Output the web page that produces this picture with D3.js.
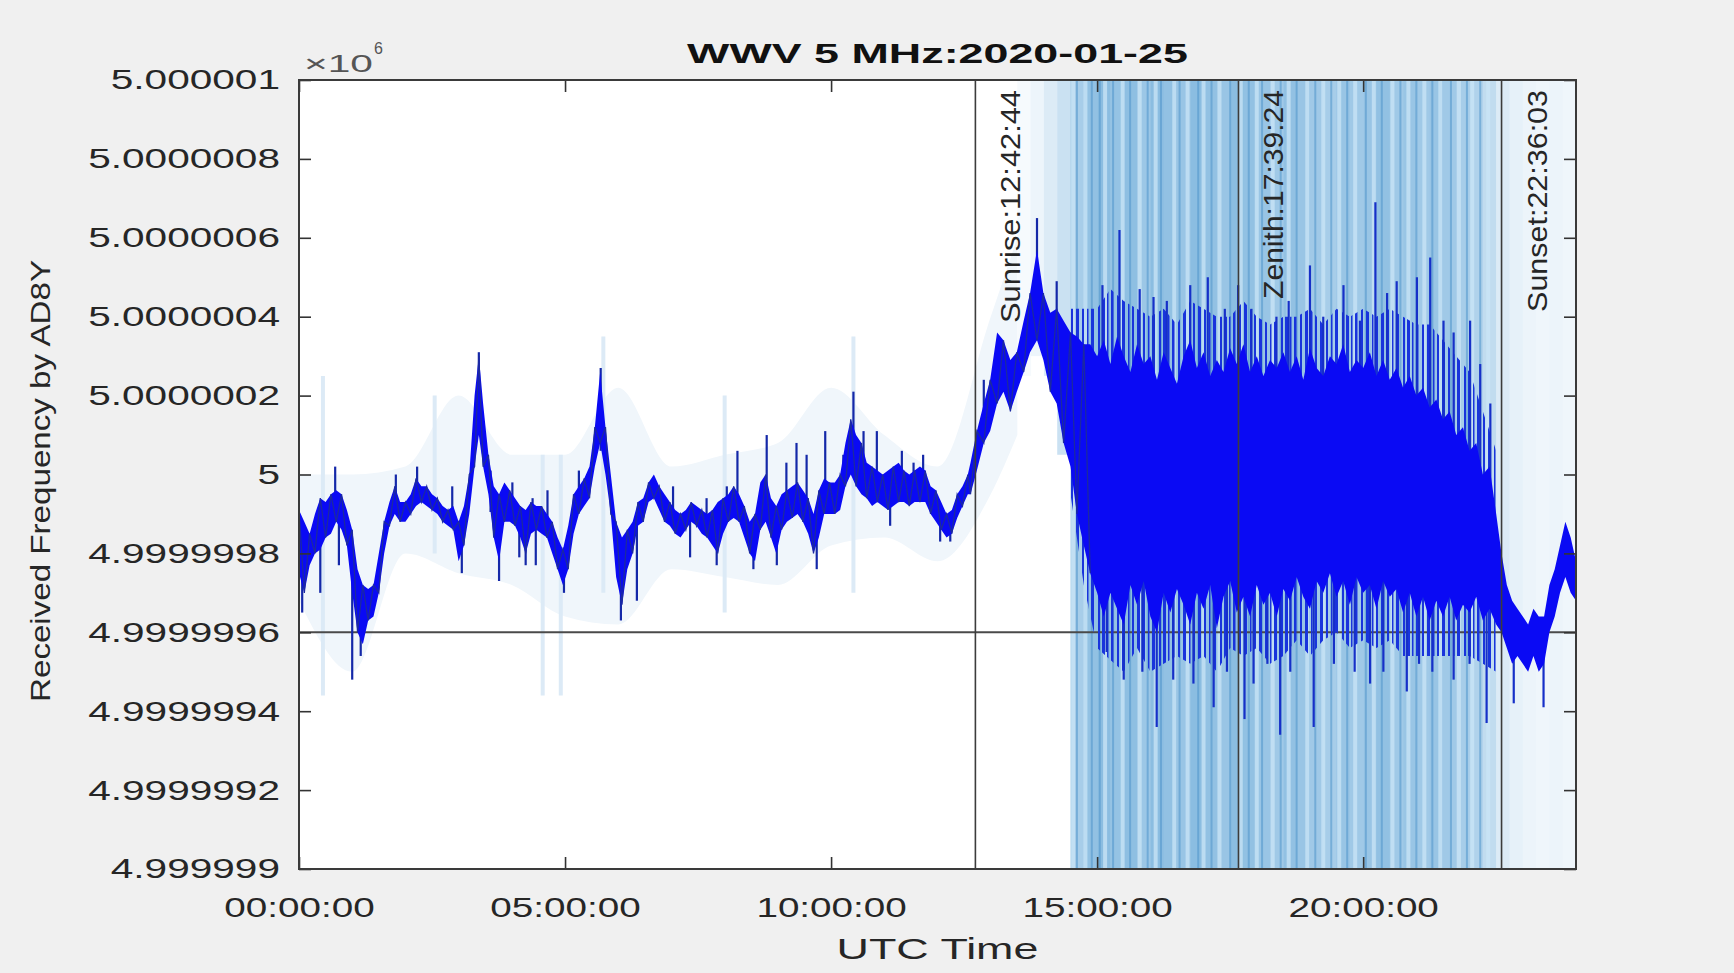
<!DOCTYPE html>
<html>
<head>
<meta charset="utf-8">
<script src="https://cdn.jsdelivr.net/npm/d3@7"></script>
<style>
    body { margin: 0; background: #f0f0f0; }
    text { font-family: "Liberation Sans", Arial, sans-serif; }
</style>
</head>
<body>
<svg id="chart" width="1734" height="973"></svg>
<script>
// Chart values (frequency offsets are in Hz relative to 5 MHz, times in UTC hours)
const BASE_HZ      = 5e6;
const TITLE        = "WWV 5 MHz:2020-01-25";
const DAY          = "2020-01-25";
const X_LABEL      = "UTC Time";
const Y_LABEL      = "Received Frequency by AD8Y";
const xTickHours   = [0, 5, 10, 15, 20];
const yTickOffsets = [-1, -0.8, -0.6, -0.4, -0.2, 0, 0.2, 0.4, 0.6, 0.8, 1];
const refOffset    = -0.4;

const eventNames = ["Sunrise", "Zenith", "Sunset"];
const eventTimes = ["12:42:44", "17:39:24", "22:36:03"];

// Dark (filtered) trace: envelope of the plotted line
const bandTime = [
    0.00, 0.10, 0.20, 0.30, 0.40, 0.50, 0.60, 0.70, 0.80, 0.90, 1.00, 1.10, 1.20, 1.30, 1.40, 1.50,
    1.60, 1.70, 1.80, 1.90, 2.00, 2.10, 2.20, 2.30, 2.40, 2.50, 2.60, 2.70, 2.80, 2.90, 3.00, 3.10,
    3.20, 3.30, 3.38, 3.46, 3.56, 3.66, 3.76, 3.86, 3.96, 4.06, 4.16, 4.26, 4.36, 4.46, 4.56, 4.66,
    4.76, 4.86, 4.96, 5.06, 5.16, 5.26, 5.36, 5.46, 5.56, 5.66, 5.76, 5.86, 5.96, 6.07, 6.17, 6.27,
    6.37, 6.47, 6.57, 6.67, 6.77, 6.87, 6.97, 7.07, 7.17, 7.27, 7.37, 7.47, 7.57, 7.67, 7.77, 7.87,
    7.97, 8.07, 8.17, 8.27, 8.37, 8.47, 8.57, 8.67, 8.77, 8.87, 8.97, 9.07, 9.17, 9.27, 9.37, 9.47,
    9.57, 9.67, 9.77, 9.87, 9.97, 10.07, 10.17, 10.27, 10.37, 10.47, 10.57, 10.67, 10.77, 10.87,
    10.97, 11.07, 11.17, 11.27, 11.37, 11.47, 11.57, 11.67, 11.77, 11.87, 11.97, 12.07, 12.17,
    12.27, 12.37, 12.47, 12.57, 12.62, 12.74, 12.87, 12.99, 13.12, 13.24, 13.37, 13.49, 13.62,
    13.74, 13.87, 13.99, 14.12, 14.24, 14.37, 14.50, 14.62, 14.75, 14.87,
    15.000, 15.125, 15.250, 15.375, 15.500, 15.625, 15.750, 15.875, 16.000, 16.125, 16.250, 16.375,
    16.500, 16.625, 16.750, 16.875, 17.000, 17.125, 17.250, 17.375, 17.500, 17.625, 17.750, 17.875,
    18.000, 18.125, 18.250, 18.375, 18.500, 18.625, 18.750, 18.875, 19.000, 19.125, 19.250, 19.375,
    19.500, 19.625, 19.750, 19.875, 20.000, 20.125, 20.250, 20.375, 20.500, 20.625, 20.750, 20.875,
    21.000, 21.125, 21.250, 21.375, 21.500, 21.625, 21.750, 21.875, 22.000, 22.125, 22.250, 22.375,
    22.500, 22.60, 22.70, 22.80, 22.90, 23.00, 23.10, 23.20, 23.30, 23.40, 23.50, 23.60,
    23.70, 23.80, 23.90, 24.00
];
const bandLow = [
    -0.25, -0.30, -0.23, -0.20, -0.19, -0.16, -0.15, -0.12, -0.14, -0.18, -0.30, -0.40, -0.43, -0.37, -0.36, -0.30,
    -0.20, -0.13, -0.10, -0.12, -0.12, -0.10, -0.08, -0.07, -0.08, -0.09, -0.10, -0.12, -0.13, -0.14, -0.22, -0.18,
    -0.10, 0.02, 0.10, 0.02, -0.05, -0.16, -0.22, -0.12, -0.12, -0.13, -0.16, -0.20, -0.15, -0.14, -0.15, -0.16,
    -0.20, -0.24, -0.28, -0.24, -0.15, -0.10, -0.08, -0.06, 0.02, 0.08, 0.00, -0.10, -0.26, -0.33, -0.24, -0.20,
    -0.13, -0.12, -0.07, -0.06, -0.09, -0.12, -0.13, -0.15, -0.16, -0.14, -0.12, -0.13, -0.15, -0.16, -0.18, -0.20,
    -0.15, -0.12, -0.11, -0.12, -0.16, -0.20, -0.22, -0.14, -0.12, -0.16, -0.20, -0.14, -0.12, -0.11, -0.10, -0.12,
    -0.15, -0.20, -0.16, -0.10, -0.10, -0.10, -0.09, -0.03, 0.00, -0.03, -0.05, -0.06, -0.08, -0.07,
    -0.08, -0.09, -0.08, -0.07, -0.07, -0.08, -0.07, -0.07, -0.07, -0.10, -0.12, -0.14, -0.16,
    -0.15, -0.11, -0.08, -0.05, -0.05, 0.01, 0.08, 0.11, 0.18, 0.21, 0.16, 0.21, 0.26,
    0.31, 0.34, 0.29, 0.21, 0.18, 0.08, 0.02, -0.10, -0.18, -0.25,
    -0.30, -0.36, -0.30, -0.34, -0.38, -0.28, -0.33, -0.27, -0.36, -0.40, -0.30, -0.35,
    -0.29, -0.33, -0.38, -0.30, -0.34, -0.28, -0.39, -0.31, -0.27, -0.35, -0.31, -0.36,
    -0.28, -0.33, -0.30, -0.36, -0.29, -0.32, -0.26, -0.31, -0.34, -0.27, -0.30, -0.25,
    -0.31, -0.27, -0.33, -0.26, -0.30, -0.28, -0.34, -0.27, -0.31, -0.29, -0.35, -0.30,
    -0.36, -0.31, -0.37, -0.32, -0.36, -0.31, -0.37, -0.33, -0.35, -0.31, -0.37, -0.34,
    -0.38, -0.40, -0.44, -0.48, -0.46, -0.48, -0.50, -0.46, -0.50, -0.48, -0.40, -0.36,
    -0.30, -0.26, -0.30, -0.32
];
const bandHigh = [
    -0.09, -0.12, -0.15, -0.10, -0.06, -0.07, -0.05, -0.04, -0.05, -0.09, -0.14, -0.24, -0.28, -0.29, -0.28, -0.20,
    -0.12, -0.07, -0.03, -0.07, -0.07, -0.05, -0.01, -0.03, -0.03, -0.05, -0.06, -0.08, -0.09, -0.08, -0.12, -0.08,
    0.00, 0.20, 0.30, 0.18, 0.05, -0.03, -0.05, -0.02, -0.04, -0.06, -0.08, -0.09, -0.07, -0.08, -0.08, -0.10,
    -0.12, -0.16, -0.19, -0.13, -0.05, -0.03, -0.01, 0.02, 0.12, 0.26, 0.12, 0.00, -0.12, -0.16, -0.14, -0.12,
    -0.07, -0.06, -0.02, 0.00, -0.03, -0.05, -0.07, -0.09, -0.10, -0.09, -0.07, -0.08, -0.09, -0.10, -0.09, -0.07,
    -0.06, -0.05, -0.03, -0.05, -0.08, -0.12, -0.10, -0.02, 0.00, -0.06, -0.08, -0.05, -0.04, -0.03, -0.02, -0.04,
    -0.06, -0.10, -0.04, -0.01, -0.02, -0.02, 0.00, 0.08, 0.14, 0.10, 0.08, 0.03, 0.02, 0.01,
    0.00, 0.01, 0.02, 0.03, 0.01, 0.00, 0.01, 0.02, 0.01, -0.03, -0.04, -0.07, -0.10,
    -0.09, -0.05, -0.03, 0.00, 0.03, 0.11, 0.18, 0.24, 0.36, 0.34, 0.29, 0.31, 0.39,
    0.46, 0.57, 0.46, 0.41, 0.42, 0.39, 0.36, 0.35, 0.33, 0.33,
    0.30, 0.34, 0.28, 0.35, 0.30, 0.26, 0.33, 0.28, 0.30, 0.24, 0.31, 0.27,
    0.23, 0.30, 0.34, 0.27, 0.31, 0.25, 0.29, 0.26, 0.32, 0.28, 0.33, 0.26,
    0.30, 0.25, 0.29, 0.27, 0.31, 0.26, 0.30, 0.24, 0.32, 0.27, 0.25, 0.30,
    0.28, 0.33, 0.26, 0.29, 0.27, 0.31, 0.25, 0.29, 0.24, 0.27, 0.22, 0.25,
    0.20, 0.22, 0.17, 0.19, 0.14, 0.16, 0.10, 0.12, 0.06, 0.08, 0.00, 0.02,
    -0.10, -0.20, -0.28, -0.32, -0.34, -0.36, -0.38, -0.34, -0.36, -0.36, -0.28, -0.24,
    -0.18, -0.12, -0.16, -0.22
];

// Streaky outer part of the dark trace during the disturbed daytime hours
const fringeTime = [
    14.50, 14.75, 15.00, 15.25, 15.50, 15.75, 16.00, 16.25, 16.50, 16.75, 17.00, 17.25, 17.50,
    17.75, 18.00, 18.25, 18.50, 18.75, 19.00, 19.25, 19.50, 19.75, 20.00, 20.25, 20.50, 20.75,
    21.00, 21.25, 21.50, 21.75, 22.00, 22.25, 22.50
];
const fringeLow = [
    -0.05, -0.28, -0.44, -0.47, -0.50, -0.44, -0.50, -0.48, -0.46, -0.48, -0.46, -0.50, -0.44,
    -0.46, -0.44, -0.48, -0.46, -0.42, -0.46, -0.42, -0.40, -0.44, -0.42, -0.44, -0.42, -0.46,
    -0.46, -0.46, -0.46, -0.46, -0.46, -0.48, -0.50
];
const fringeHigh = [
    0.42, 0.42, 0.42, 0.47, 0.44, 0.42, 0.40, 0.42, 0.38, 0.44, 0.42, 0.40, 0.40,
    0.44, 0.40, 0.38, 0.40, 0.40, 0.42, 0.38, 0.42, 0.40, 0.42, 0.40, 0.42, 0.40,
    0.38, 0.38, 0.34, 0.30, 0.26, 0.16, 0.06
];

// Single excursions of the dark trace
const spikeTime = [
    0.06, 0.40, 0.68, 0.75, 1.00, 1.16, 1.82, 2.22, 2.88, 3.06, 3.38, 3.60, 3.76, 4.01, 4.14,
    4.26, 4.39, 4.45, 4.67, 4.98, 5.26, 5.67, 6.05, 6.35, 7.03, 7.35, 7.66, 7.85, 8.04, 8.24,
    8.54, 8.79, 8.98, 9.16, 9.35, 9.54, 9.73, 9.89, 10.23, 10.42, 10.61, 10.86, 11.11, 11.33,
    11.55, 11.73, 12.05, 12.24,
    12.87, 13.87, 14.24,
    15.10, 15.42, 15.80, 16.06, 16.31, 16.75, 17.08, 17.40, 17.65, 17.90, 18.37, 18.60, 19.00,
    19.25, 19.63, 19.94, 20.23, 20.45, 20.63, 21.01, 21.26, 21.51, 21.70, 22.01, 22.20, 22.39,
    15.18, 15.50, 15.85, 16.12, 16.43, 16.81, 17.19, 17.44, 17.77, 17.94, 18.20, 18.44, 18.63,
    19.07, 19.45, 19.84, 20.13, 20.38, 20.82, 21.05, 21.30, 21.70, 22.00, 22.32, 22.83, 23.39
];
const spikeValue = [
    -0.35, -0.30, 0.02, -0.23, -0.52, -0.46, 0.00, 0.02, -0.03, -0.25, 0.31, 0.01, -0.27, -0.02, -0.21,
    -0.23, -0.06, -0.23, -0.04, -0.30, 0.01, 0.27, -0.37, -0.32, -0.03, -0.21, -0.06, -0.23, -0.03, 0.06,
    -0.24, 0.10, -0.23, 0.03, 0.08, 0.05, -0.24, 0.11, 0.05, 0.21, 0.11, 0.11, -0.13, 0.06,
    0.03, 0.05, -0.17, -0.17,
    0.24, 0.65, 0.49,
    0.48, 0.62, 0.47, 0.45, 0.44, 0.48, 0.50, 0.42, 0.48, 0.42, 0.40, 0.44, 0.53,
    0.40, 0.48, 0.39, 0.69, 0.46, 0.49, 0.50, 0.55, 0.39, 0.36, 0.39, 0.28, 0.18,
    -0.45, -0.52, -0.50, -0.64, -0.52, -0.53, -0.59, -0.50, -0.62, -0.53, -0.48, -0.66, -0.50,
    -0.64, -0.48, -0.50, -0.53, -0.50, -0.55, -0.48, -0.50, -0.52, -0.48, -0.63, -0.58, -0.59
];

// Light (raw) trace: pale halo during the quiet night hours
const hazeTime = [0, 1, 2, 3, 4, 5, 6, 7, 8, 9, 10, 11, 12, 13, 13.5];
const hazeHigh = [0.00, 0.00, 0.02, 0.20, 0.05, 0.05, 0.22, 0.02, 0.05, 0.08, 0.22, 0.10, 0.02, 0.40, 0.60];
const hazeLow  = [-0.32, -0.50, -0.20, -0.25, -0.28, -0.36, -0.38, -0.24, -0.26, -0.28, -0.18, -0.16, -0.22, -0.05, 0.10];

// Light (raw) trace: coverage in quarter-hour bins where it spans the whole axis
const rawTime = [
    13.50, 13.75, 14.00, 14.25, 14.50, 14.75, 15.00, 15.25, 15.50, 15.75, 16.00, 16.25, 16.50, 16.75,
    17.00, 17.25, 17.50, 17.75, 18.00, 18.25, 18.50, 18.75, 19.00, 19.25, 19.50, 19.75, 20.00, 20.25,
    20.50, 20.75, 21.00, 21.25, 21.50, 21.75, 22.00, 22.25, 22.50, 22.75, 23.00, 23.25, 23.50, 23.75
];
const rawDensity = [
    0.05, 0.10, 0.20, 0.30, 0.50, 0.62, 0.66, 0.60, 0.64, 0.56, 0.66, 0.62, 0.58, 0.66,
    0.62, 0.58, 0.66, 0.62, 0.58, 0.54, 0.62, 0.58, 0.54, 0.50, 0.58, 0.54, 0.58, 0.62,
    0.54, 0.58, 0.54, 0.58, 0.54, 0.50, 0.45, 0.35, 0.20, 0.14, 0.11, 0.09, 0.11, 0.09
];
const rawLow = [
    0.25, 0.30, 0.25, 0.05, -1.2, -1.2, -1.2, -1.2, -1.2, -1.2, -1.2, -1.2, -1.2, -1.2,
    -1.2, -1.2, -1.2, -1.2, -1.2, -1.2, -1.2, -1.2, -1.2, -1.2, -1.2, -1.2, -1.2, -1.2,
    -1.2, -1.2, -1.2, -1.2, -1.2, -1.2, -1.2, -1.2, -1.2, -1.2, -1.2, -1.2, -1.2, -1.2
];
const streakDarkTime = [
    14.62, 14.90, 15.05, 15.30, 15.62, 15.95, 16.20, 16.55, 16.90, 17.15, 17.50, 17.85, 18.10,
    18.45, 18.75, 19.10, 19.40, 19.70, 20.05, 20.35, 20.70, 21.00, 21.30, 21.65, 21.95, 22.20
];
const streakLightTime = [
    14.55, 14.78, 15.15, 15.48, 15.80, 16.10, 16.45, 16.70, 17.00, 17.30, 17.70, 18.00, 18.30,
    18.60, 18.95, 19.25, 19.55, 19.85, 20.20, 20.55, 20.85, 21.15, 21.45, 21.80, 22.05, 22.35
];
const faintTime = [0.45, 2.55, 4.58, 4.92, 5.72, 8.00, 10.42];
const faintHigh = [0.25, 0.20, 0.05, 0.05, 0.35, 0.20, 0.35];
const faintLow  = [-0.56, -0.20, -0.56, -0.56, -0.30, -0.35, -0.30];

// Layout
const margin = {left: 299, right: 158, top: 80, bottom: 104};
const width  = 1734;
const height = 973;
const FONT   = 28;
const DISTURBED_FROM = 14.9;   // texture line is only drawn on the quiet part of the trace

const svg = d3.select("#chart");

const day0 = d3.utcParse("%Y-%m-%d")(DAY);
const day1 = d3.utcDay.offset(day0, 1);
const hours = (h) => new Date(day0.getTime() + h * 3600e3);
const parseClock = d3.utcParse("%Y-%m-%d %H:%M:%S");

const x = d3.scaleUtc()
    .domain([day0, day1])
    .range([margin.left, width - margin.right]);

const y = d3.scaleLinear()
    .domain([-1, 1])
    .range([height - margin.bottom, margin.top]);

const x0 = x.range()[0], x1 = x.range()[1];
const y0 = y.range()[1], y1 = y.range()[0];

// Stretch text horizontally (the source picture is wider than it is tall)
function stretchX(sel, sx)
{
    sel.each(function () {
        const t = d3.select(this);
        const tx = +t.attr("x") || 0;
        t.attr("x", tx / sx).attr("transform", `scale(${sx},1)`);
    });
}

function fitFactor(node, target)
{
    return target / node.getComputedTextLength();
}

const yFormat = (o) => ((BASE_HZ + o) / 1e6).toFixed(7).replace(/0+$/, "").replace(/\.$/, "");

const defs = svg.append("defs");

defs.append("clipPath")
    .attr("id", "plot-clip")
    .append("rect")
    .attr("x", x0).attr("y", y0)
    .attr("width", x1 - x0).attr("height", y1 - y0);

// Streak pattern for the outer part of the dark trace
const pattern = defs.append("pattern")
    .attr("id", "fringe")
    .attr("patternUnits", "userSpaceOnUse")
    .attr("width", 61).attr("height", 40);

[[0, 2], [4, 3], [9, 1.5], [13, 2.5], [19, 2], [24, 3], [30, 1.5], [34, 2], [39, 3], [45, 2], [50, 1.5], [54, 3]]
    .forEach(([px, pw]) => {
        pattern.append("rect")
            .attr("x", px).attr("y", 0)
            .attr("width", pw).attr("height", 40)
            .attr("fill", "#1934dc");
    });

svg.append("rect")
    .attr("x", x0).attr("y", y0)
    .attr("width", x1 - x0).attr("height", y1 - y0)
    .attr("fill", "#ffffff");

const plot = svg.append("g").attr("clip-path", "url(#plot-clip)");

const hx = (t) => x(hours(t));

// Pale halo of the raw trace
plot.append("path")
    .datum(hazeTime.map((t, i) => ({t, lo: hazeLow[i], hi: hazeHigh[i]})))
    .attr("fill", "#f0f6fb")
    .attr("d", d3.area().curve(d3.curveMonotoneX)
        .x((d) => hx(d.t))
        .y0((d) => y(d.lo))
        .y1((d) => y(d.hi)));

plot.selectAll("line.faint")
    .data(faintTime.map((t, i) => ({t, lo: faintLow[i], hi: faintHigh[i]})))
    .join("line")
    .attr("class", "faint")
    .attr("x1", (d) => hx(d.t)).attr("x2", (d) => hx(d.t))
    .attr("y1", (d) => y(d.hi)).attr("y2", (d) => y(d.lo))
    .attr("stroke", "#dceaf6")
    .attr("stroke-width", 4);

// Raw trace coverage bins
const rawColor = d3.interpolateRgb("#ffffff", "#4f9bd2");

plot.selectAll("rect.raw")
    .data(rawTime.map((t, i) => ({t, density: rawDensity[i], lo: rawLow[i]})))
    .join("rect")
    .attr("class", "raw")
    .attr("x", (d) => hx(d.t))
    .attr("width", (d) => hx(d.t + 0.25) - hx(d.t) + 0.5)
    .attr("y", y(1.2))
    .attr("height", (d) => y(d.lo) - y(1.2))
    .attr("fill", (d) => rawColor(d.density));

plot.selectAll("line.streak-dark")
    .data(streakDarkTime)
    .join("line")
    .attr("class", "streak-dark")
    .attr("x1", hx).attr("x2", hx)
    .attr("y1", y0).attr("y2", y1)
    .attr("stroke", "#4f95cb")
    .attr("stroke-width", 2)
    .attr("opacity", 0.55);

plot.selectAll("line.streak-light")
    .data(streakLightTime)
    .join("line")
    .attr("class", "streak-light")
    .attr("x1", hx).attr("x2", hx)
    .attr("y1", y0).attr("y2", y1)
    .attr("stroke", "#cbe6f7")
    .attr("stroke-width", 4)
    .attr("opacity", 0.75);

// Reference line
plot.append("line")
    .attr("x1", x0).attr("x2", x1)
    .attr("y1", y(refOffset)).attr("y2", y(refOffset))
    .attr("stroke", "#4a4a4a")
    .attr("stroke-width", 2);

// Dark trace
const band = bandTime.map((t, i) => ({t, lo: bandLow[i], hi: bandHigh[i]}));
const fringe = fringeTime.map((t, i) => ({t, lo: fringeLow[i], hi: fringeHigh[i]}));

plot.append("path")
    .datum(fringe)
    .attr("fill", "url(#fringe)")
    .attr("d", d3.area()
        .x((d) => hx(d.t))
        .y0((d) => y(d.lo))
        .y1((d) => y(d.hi)));

const bisect = d3.bisector((d) => d.t).left;

plot.selectAll("line.spike")
    .data(spikeTime.map((t, i) => ({t, v: spikeValue[i]})))
    .join("line")
    .attr("class", "spike")
    .attr("x1", (d) => hx(d.t)).attr("x2", (d) => hx(d.t))
    .attr("y1", (d) => y(d.v))
    .attr("y2", (d) => {
        const b = band[Math.min(bisect(band, d.t), band.length - 1)];
        return y((b.lo + b.hi) / 2);
    })
    .attr("stroke", (d) => d.t < DISTURBED_FROM ? "#1428a8" : "#1630c8")
    .attr("stroke-width", 2.2);

plot.append("path")
    .datum(band)
    .attr("fill", "#0a0af4")
    .attr("d", d3.area()
        .x((d) => hx(d.t))
        .y0((d) => y(d.lo))
        .y1((d) => y(d.hi)));

// Jagged texture of the quiet trace: alternate between the envelope edges
plot.append("path")
    .datum(band.filter((d) => d.t < DISTURBED_FROM))
    .attr("fill", "none")
    .attr("stroke", "#1c2aa0")
    .attr("stroke-width", 1.3)
    .attr("d", d3.line()
        .x((d) => hx(d.t))
        .y((d, i) => y(i % 2 ? d.lo : d.hi)));

// Sunrise / zenith / sunset markers
const events = eventNames.map((name, i) => ({
    name,
    time: eventTimes[i],
    date: parseClock(DAY + " " + eventTimes[i])
}));
const eventLabelLength = [233, 209, 222];

svg.selectAll("line.event")
    .data(events)
    .join("line")
    .attr("class", "event")
    .attr("x1", (d) => x(d.date)).attr("x2", (d) => x(d.date))
    .attr("y1", y0).attr("y2", y1)
    .attr("stroke", "#3c3c3c")
    .attr("stroke-width", 1.6);

svg.selectAll("g.event-label")
    .data(events)
    .join("g")
    .attr("class", "event-label")
    .each(function (d, i) {
        const g = d3.select(this);
        const t = g.append("text")
            .attr("text-anchor", "end")
            .attr("font-size", FONT)
            .attr("fill", "#262626")
            .text(d.name + ":" + d.time);
        const sx = fitFactor(t.node(), eventLabelLength[i]);
        g.attr("transform", `translate(${x(d.date) + 45},${y0 + 10}) rotate(-90) scale(${sx},1)`);
    });

// Axes (MATLAB style: ticks inside the box on all four sides)
const axisStyle = (g) => {
    g.select(".domain").remove();
    g.selectAll(".tick line").attr("stroke", "#333333").attr("stroke-width", 1.6);
    g.selectAll(".tick text")
        .attr("font-size", FONT)
        .attr("fill", "#262626")
        .attr("font-family", "Liberation Sans, Arial, sans-serif");
};

svg.append("g")
    .attr("transform", `translate(${x0},0)`)
    .call(d3.axisLeft(y).tickValues(yTickOffsets).tickFormat(yFormat)
        .tickSizeInner(-12).tickSizeOuter(0).tickPadding(19))
    .call(axisStyle)
    .call((g) => stretchX(g.selectAll(".tick text"), 1.45));

svg.append("g")
    .attr("transform", `translate(${x1},0)`)
    .call(d3.axisRight(y).tickValues(yTickOffsets).tickFormat("")
        .tickSizeInner(-12).tickSizeOuter(0))
    .call(axisStyle);

svg.append("g")
    .attr("transform", `translate(0,${y1})`)
    .call(d3.axisBottom(x).tickValues(xTickHours.map(hours))
        .tickFormat(d3.utcFormat("%H:%M:%S"))
        .tickSizeInner(-12).tickSizeOuter(0).tickPadding(28))
    .call(axisStyle)
    .call((g) => stretchX(g.selectAll(".tick text"), 1.38));

svg.append("g")
    .attr("transform", `translate(0,${y0})`)
    .call(d3.axisTop(x).tickValues(xTickHours.map(hours)).tickFormat("")
        .tickSizeInner(-12).tickSizeOuter(0))
    .call(axisStyle);

svg.append("rect")
    .attr("x", x0).attr("y", y0)
    .attr("width", x1 - x0).attr("height", y1 - y0)
    .attr("fill", "none")
    .attr("stroke", "#3a3a3a")
    .attr("stroke-width", 2);

// Exponent label
const expo = svg.append("g").attr("transform", `translate(${x0 + 5},72)`);
const expoText = expo.append("text")
    .attr("font-size", 24)
    .attr("fill", "#555555")
    .text("\u00d710");
expoText.attr("transform", `scale(${fitFactor(expoText.node(), 69)},1)`);
expo.append("text")
    .attr("x", 70).attr("y", -18)
    .attr("font-size", 16)
    .attr("fill", "#555555")
    .text("6");

// Title
const title = svg.append("g").attr("transform", `translate(${(x0 + x1) / 2},63)`);
const titleText = title.append("text")
    .attr("text-anchor", "middle")
    .attr("font-size", FONT)
    .attr("font-weight", "bold")
    .attr("fill", "#111111")
    .text(TITLE);
titleText.attr("transform", `scale(${fitFactor(titleText.node(), 501)},1)`);

// Axis labels
const xLabel = svg.append("g").attr("transform", `translate(${(x0 + x1) / 2},959)`);
const xLabelText = xLabel.append("text")
    .attr("text-anchor", "middle")
    .attr("font-size", 29)
    .attr("fill", "#262626")
    .text(X_LABEL);
xLabelText.attr("transform", `scale(${fitFactor(xLabelText.node(), 202)},1)`);

const yLabel = svg.append("g");
const yLabelText = yLabel.append("text")
    .attr("text-anchor", "middle")
    .attr("font-size", 27)
    .attr("fill", "#262626")
    .text(Y_LABEL);
yLabel.attr("transform", `translate(50,481) rotate(-90) scale(${fitFactor(yLabelText.node(), 442)},1)`);
</script>
</body>
</html>
